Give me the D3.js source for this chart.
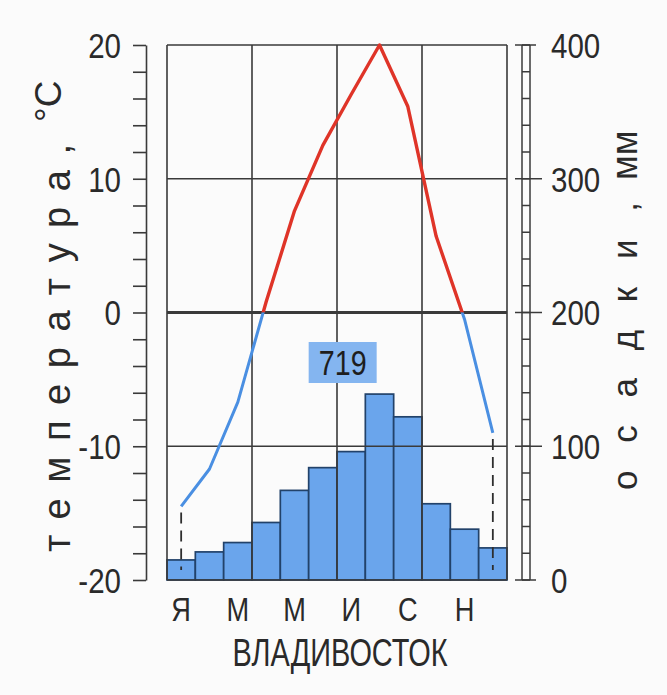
<!DOCTYPE html>
<html><head><meta charset="utf-8">
<script src="https://cdn.jsdelivr.net/npm/d3@7/dist/d3.min.js"></script>
<style>
html,body{margin:0;padding:0;background:#fbfbfb;}
svg{display:block;}
</style></head>
<body>
<script>
// ---- data ----
const months = ["Я","Ф","М","А","М","И","И","А","С","О","Н","Д"];
const temperature = [-14.5, -11.7, -6.7, 0.8, 7.6, 12.5, 16.3, 20, 15.4, 5.7, -0.5, -9.0];
const precipitation = [15, 21, 28, 43, 67, 84, 96, 139, 122, 57, 38, 24];
const annualTotal = "719";
const station = "ВЛАДИВОСТОК";
const tempTicks = [-20, -10, 0, 10, 20];
const precipTicks = [0, 100, 200, 300, 400];
const tempTitle = "температура,";
const tempUnit = "°С";
const precipTitle = "осадки,";
const precipUnit = "мм";

const W = 667, H = 695;
const svg = d3.select("body").append("svg").attr("width", W).attr("height", H);
svg.append("rect").attr("width", W).attr("height", H).attr("fill", "#fbfbfb");

const L = 167, R = 507, T = 45, B = 580;
const x = d3.scaleBand().domain(d3.range(12)).range([L, R]).padding(0);
const yT = d3.scaleLinear().domain([-20, 20]).range([B, T]);
const yP = d3.scaleLinear().domain([0, 400]).range([B, T]);

const gridCol = "#3a3a3a";
const textCol = "#2a2a2a";
const SANS = "'Liberation Sans',Arial,sans-serif";
const SX = 0.82; // condensed look

// bars
svg.append("g").selectAll("rect").data(precipitation).join("rect")
  .attr("x", (d, i) => x(i))
  .attr("width", x.bandwidth())
  .attr("y", d => yP(d))
  .attr("height", d => yP(0) - yP(d))
  .attr("fill", "#6aa5ec")
  .attr("stroke", "#22426a")
  .attr("stroke-width", 1.7);

// grid
const grid = svg.append("g").attr("stroke", gridCol).attr("fill", "none");
grid.selectAll("line.h").data(tempTicks).join("line")
  .attr("x1", L).attr("x2", R)
  .attr("y1", d => yT(d)).attr("y2", d => yT(d))
  .attr("stroke-width", d => d === 0 ? 2.8 : 1.6);
grid.selectAll("line.v").data([0, 3, 6, 9, 12]).join("line")
  .attr("x1", d => d === 12 ? R : x(d)).attr("x2", d => d === 12 ? R : x(d))
  .attr("y1", T).attr("y2", B)
  .attr("stroke-width", 1.6);

// left axis (line + ticks via d3 axis, labels drawn condensed)
const leftAxis = d3.axisLeft(yT)
  .tickValues(d3.range(-20, 21, 2))
  .tickSize(13).tickSizeOuter(0)
  .tickFormat("");
const la = svg.append("g").attr("transform", "translate(146,0)").call(leftAxis);
la.selectAll("path,line").attr("stroke", gridCol).attr("stroke-width", 1.6);
svg.append("g").selectAll("text").data(tempTicks).join("text")
  .attr("transform", d => `translate(121,${yT(d)}) scale(${SX},1)`)
  .attr("dy", "0.36em").attr("text-anchor", "end")
  .attr("font-family", SANS).attr("font-size", 36).attr("fill", textCol)
  .text(d => d);

// right ladder axis
const rx1 = 522, rx2 = 530;
const ra = svg.append("g").attr("stroke", gridCol).attr("stroke-width", 1.5);
ra.append("line").attr("x1", rx1).attr("x2", rx1).attr("y1", yP(400)).attr("y2", yP(0));
ra.append("line").attr("x1", rx2).attr("x2", rx2).attr("y1", yP(400)).attr("y2", yP(0));
ra.selectAll("line.r").data(d3.range(0, 401, 20)).join("line")
  .attr("x1", rx1).attr("x2", rx2)
  .attr("y1", d => yP(d)).attr("y2", d => yP(d));
ra.selectAll("line.m").data(precipTicks).join("line")
  .attr("x1", 515).attr("x2", d => (d === 400 || d === 0) ? 536 : 542)
  .attr("y1", d => yP(d)).attr("y2", d => yP(d));
svg.append("g").selectAll("text").data(precipTicks).join("text")
  .attr("transform", d => `translate(551,${yP(d)}) scale(${SX},1)`)
  .attr("dy", "0.36em")
  .attr("font-family", SANS).attr("font-size", 36).attr("fill", textCol)
  .text(d => d);

// annual total label
const boxX = x(5), boxW = 68;
svg.append("rect").attr("x", boxX).attr("y", 342).attr("width", boxW).attr("height", 41)
  .attr("fill", "#84b5f0");
svg.append("text").attr("transform", `translate(${boxX + boxW / 2},375) scale(${SX},1)`)
  .attr("text-anchor", "middle")
  .attr("font-family", SANS).attr("font-size", 35).attr("fill", "#1e1e1e").text(annualTotal);

// dashed drop lines at first and last month
svg.append("g").selectAll("line").data([0, 11]).join("line")
  .attr("x1", i => x(i) + x.bandwidth() / 2).attr("x2", i => x(i) + x.bandwidth() / 2)
  .attr("y1", i => yT(temperature[i]) + 6).attr("y2", B - 10)
  .attr("stroke", "#2e2e2e").attr("stroke-width", 1.8).attr("stroke-dasharray", "11,7");

// temperature line, red above 0 and blue below
const defs = svg.append("defs");
defs.append("clipPath").attr("id", "above").append("rect")
  .attr("x", 0).attr("y", 0).attr("width", W).attr("height", yT(0));
defs.append("clipPath").attr("id", "below").append("rect")
  .attr("x", 0).attr("y", yT(0)).attr("width", W).attr("height", H - yT(0));
const line = d3.line().x((d, i) => x(i) + x.bandwidth() / 2).y(d => yT(d));
svg.append("path").datum(temperature).attr("d", line).attr("fill", "none")
  .attr("stroke", "#df3428").attr("stroke-width", 3.4).attr("stroke-linejoin", "round")
  .attr("clip-path", "url(#above)");
svg.append("path").datum(temperature).attr("d", line).attr("fill", "none")
  .attr("stroke", "#4a8fe2").attr("stroke-width", 3).attr("stroke-linejoin", "round")
  .attr("clip-path", "url(#below)");

// month labels
svg.append("g").selectAll("text").data(months).join("text")
  .attr("transform", (d, i) => `translate(${x(i) + x.bandwidth() / 2},621) scale(0.8,1)`)
  .attr("text-anchor", "middle").attr("font-family", SANS).attr("font-size", 34)
  .attr("fill", textCol)
  .text((d, i) => i % 2 === 0 ? d : "");

// station title
svg.append("text").attr("x", 340).attr("y", 666).attr("text-anchor", "middle")
  .attr("font-family", SANS).attr("font-size", 38).attr("fill", textCol)
  .attr("textLength", 215).attr("lengthAdjust", "spacingAndGlyphs")
  .text(station);

// left title
svg.append("text").attr("transform", "translate(70,552) rotate(-90)")
  .attr("font-family", SANS).attr("font-size", 38).attr("fill", textCol)
  .attr("textLength", 408).attr("lengthAdjust", "spacing")
  .text(tempTitle);
svg.append("text").attr("transform", "translate(61,122) rotate(-90)")
  .attr("font-family", SANS).attr("font-size", 37).attr("fill", textCol)
  .text(tempUnit);

// right title
svg.append("text").attr("transform", "translate(637,490) rotate(-90)")
  .attr("font-family", SANS).attr("font-size", 35).attr("fill", textCol)
  .attr("textLength", 288).attr("lengthAdjust", "spacing")
  .text(precipTitle);
svg.append("text").attr("transform", "translate(637,180) rotate(-90)")
  .attr("font-family", SANS).attr("font-size", 36).attr("fill", textCol)
  .text(precipUnit);
</script>
</body></html>
